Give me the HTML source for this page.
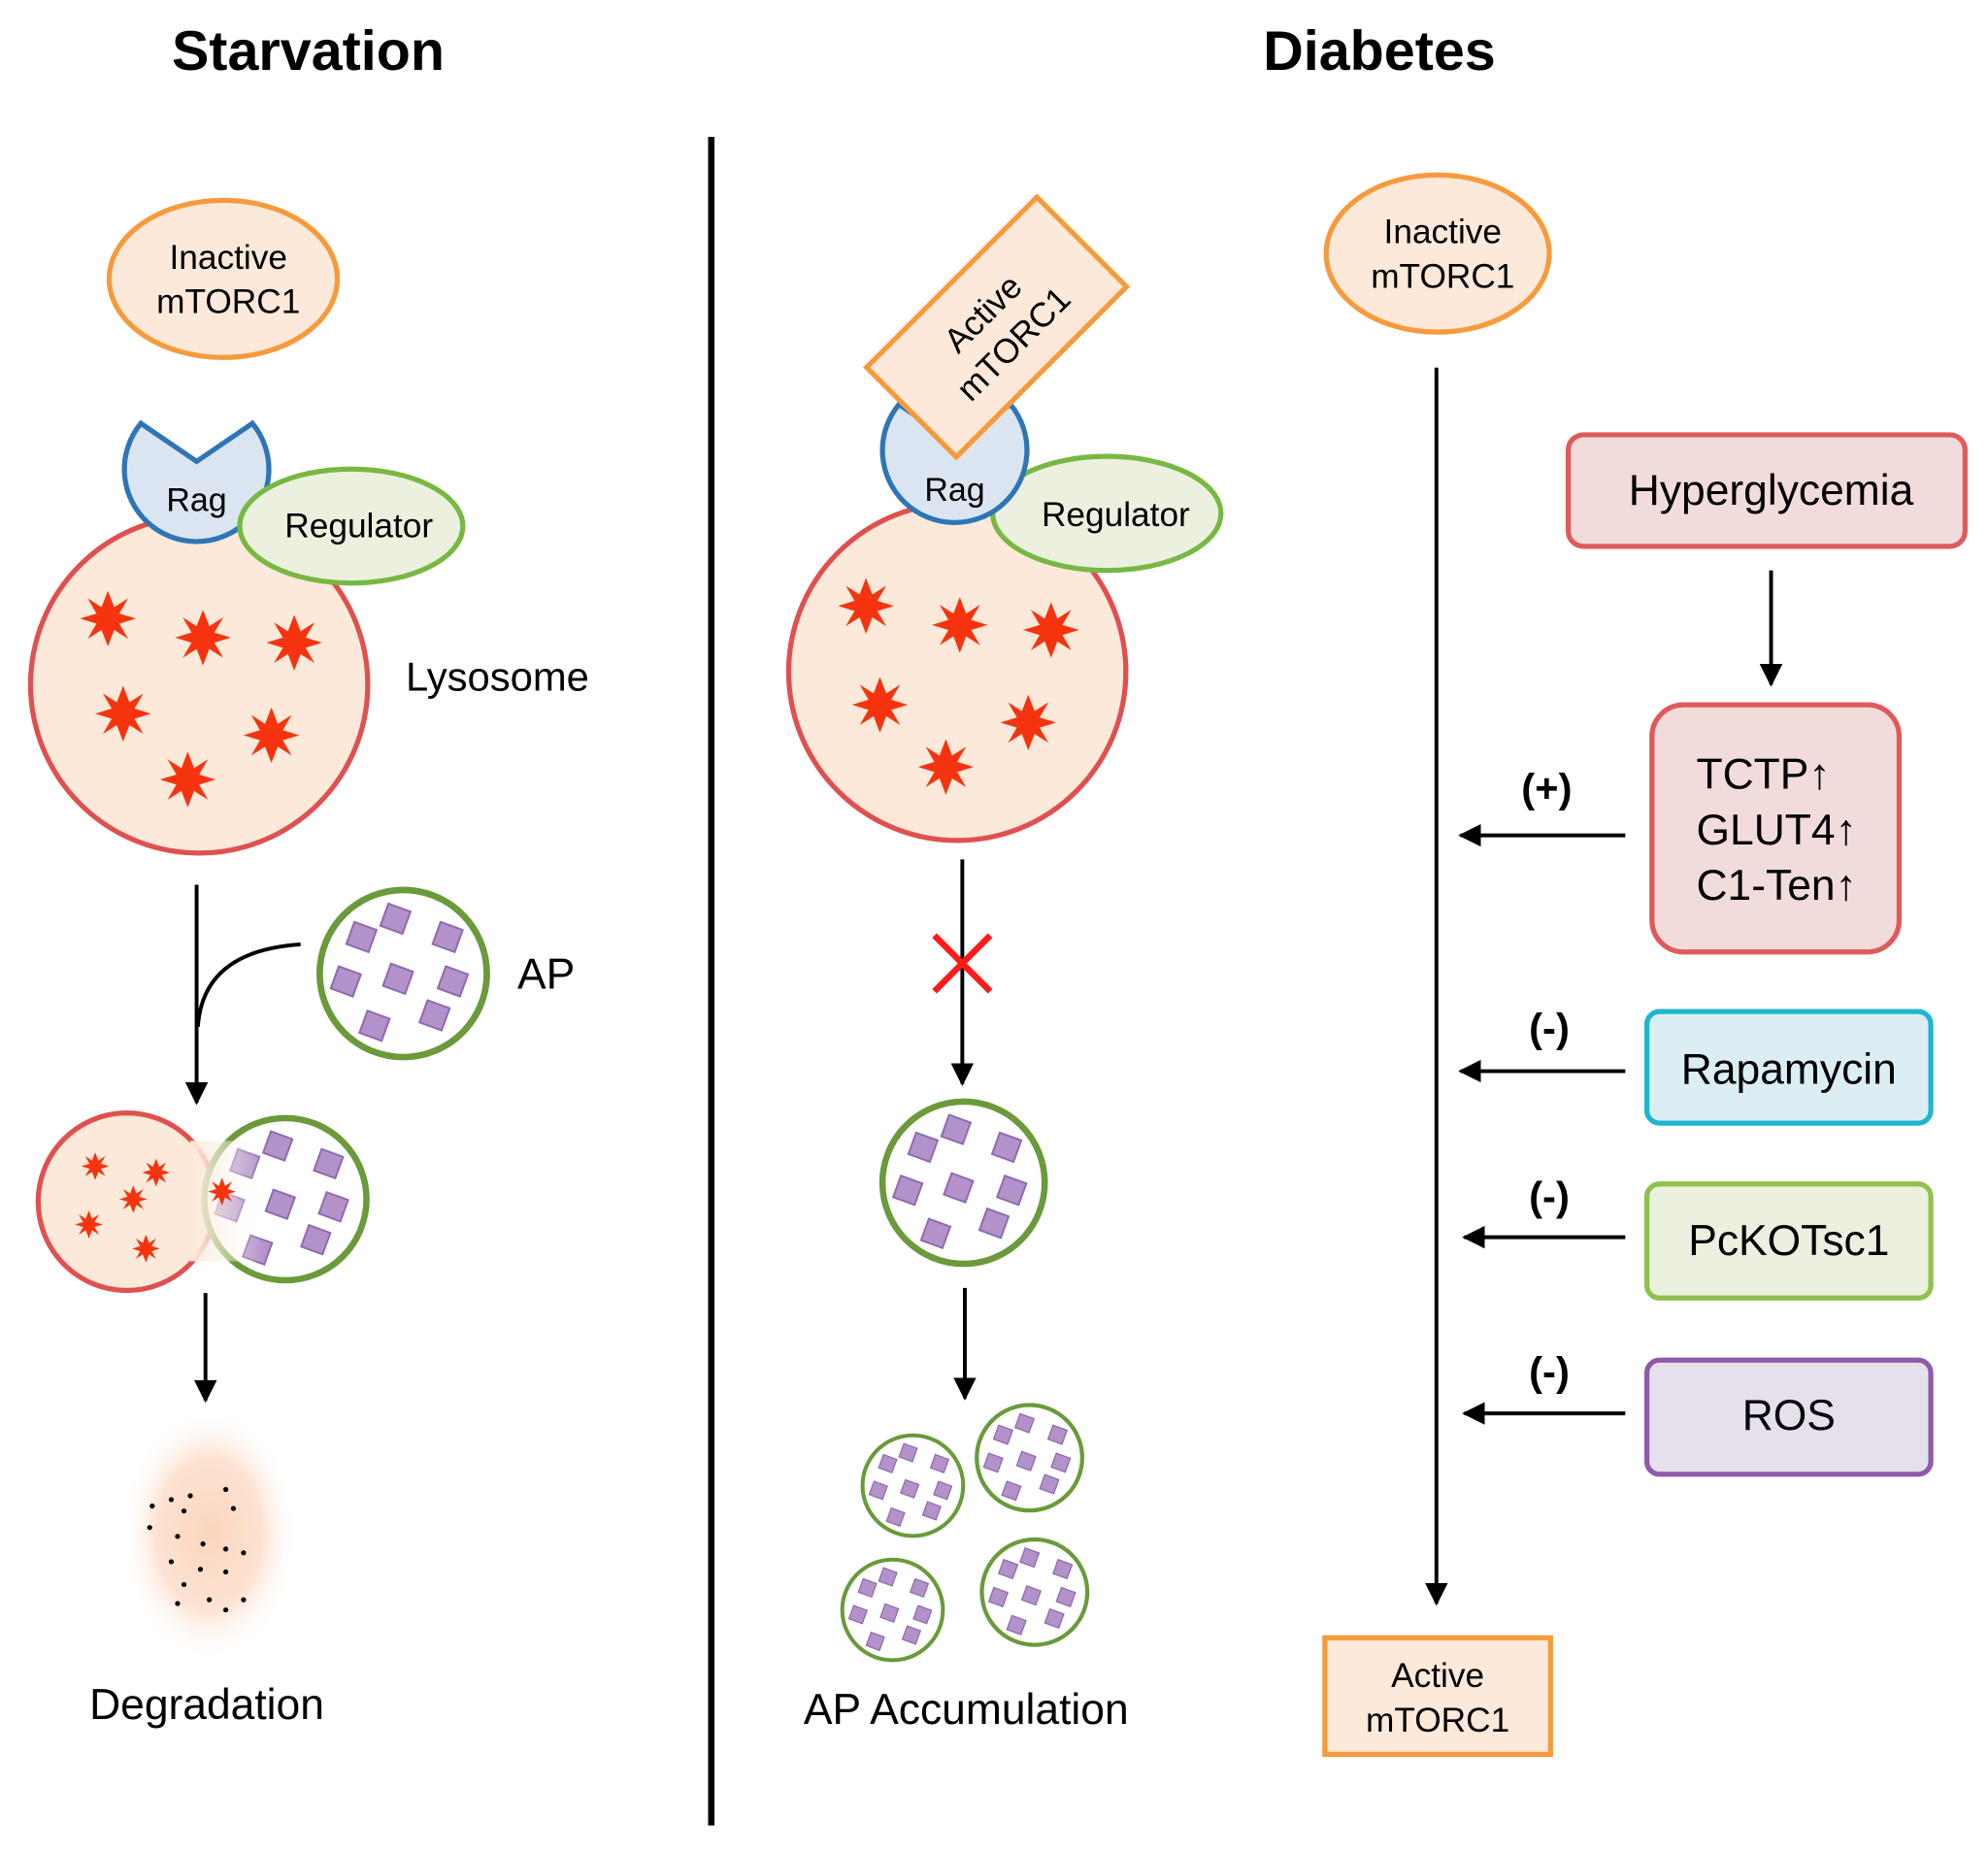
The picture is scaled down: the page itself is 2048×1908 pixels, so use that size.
<!DOCTYPE html>
<html><head><meta charset="utf-8"><style>html,body{margin:0;padding:0;background:#fff}svg{display:block}</style></head>
<body>
<svg width="2048" height="1908" viewBox="0 0 1568 1461" xmlns="http://www.w3.org/2000/svg" font-family="Liberation Sans, sans-serif">
<defs>
<marker id="ah" markerWidth="8" markerHeight="8" refX="6" refY="4" orient="auto" markerUnits="userSpaceOnUse" viewBox="0 0 8 8"><path d="M0,0 L8,4 L0,8 z" fill="#000"/></marker>
<marker id="a" viewBox="0 0 10 10" refX="9" refY="5" markerWidth="18" markerHeight="18" markerUnits="userSpaceOnUse" orient="auto"><path d="M0,0 L10,5 L0,10 z" fill="#000"/></marker>
<radialGradient id="deg"><stop offset="0" stop-color="#fbd5bd"/><stop offset="0.6" stop-color="#fde3d3"/><stop offset="1" stop-color="#fff" stop-opacity="0"/></radialGradient>
<linearGradient id="fuse" x1="0" x2="1"><stop offset="0" stop-color="#fde9d9"/><stop offset="1" stop-color="#fff" stop-opacity="0"/></linearGradient>
<g id="star"><polygon points="0,-22 5,-9 16,-16 9,-4 22,0 9,4 16,16 5,9 0,22 -5,9 -16,16 -9,4 -22,0 -9,-4 -16,-16 -5,-9" fill="#f5340f"/></g>
<g id="dia"><rect x="-9" y="-9" width="18" height="18" fill="#b392c9" stroke="#8e6aae" stroke-width="1.5" transform="rotate(20)"/></g>
<g id="ap">
<circle r="64" fill="#fff" stroke="#6a9a3a" stroke-width="5"/>
<use href="#dia" x="-32" y="-28"/><use href="#dia" x="-6" y="-42"/><use href="#dia" x="34" y="-28"/>
<use href="#dia" x="-44" y="6"/><use href="#dia" x="-4" y="4"/><use href="#dia" x="38" y="6"/>
<use href="#dia" x="-22" y="40"/><use href="#dia" x="24" y="32"/>
</g>
<g id="rag"><path d="M-44,-44 L0,-14 L44,-44 A57,57 0 1 1 -44,-44 Z" fill="#dbe5f1" stroke="#2e75b6" stroke-width="4"/></g>
</defs>

<text x="243" y="55" font-size="44" font-weight="bold" text-anchor="middle">Starvation</text>
<text x="1088" y="55" font-size="44" font-weight="bold" text-anchor="middle">Diabetes</text>
<line x1="561" y1="108" x2="561" y2="1440" stroke="#000" stroke-width="5"/>

<!-- Left -->
<ellipse cx="176" cy="220" rx="90" ry="62" fill="#fde9d9" stroke="#f79a3c" stroke-width="4"/>
<text x="180" y="212" font-size="27" text-anchor="middle">Inactive</text>
<text x="180" y="247" font-size="27" text-anchor="middle">mTORC1</text>
<circle cx="157" cy="540" r="133" fill="#fde9d9" stroke="#e05050" stroke-width="4"/>
<use href="#rag" x="155" y="378"/>
<text x="155" y="403" font-size="26" text-anchor="middle">Rag</text>
<ellipse cx="277" cy="415" rx="88" ry="45" fill="#ebf1de" stroke="#77b843" stroke-width="4"/>
<text x="283" y="424" font-size="27" text-anchor="middle">Regulator</text>
<use href="#star" x="85" y="488"/><use href="#star" x="160" y="503"/><use href="#star" x="232" y="507"/>
<use href="#star" x="97" y="563"/><use href="#star" x="214" y="580"/><use href="#star" x="148" y="615"/>
<text x="320" y="545" font-size="32">Lysosome</text>
<line x1="155" y1="698" x2="155" y2="870" stroke="#000" stroke-width="3" marker-end="url(#a)"/>
<path d="M237,745 Q160,750 156,810" fill="none" stroke="#000" stroke-width="3"/>
<use href="#ap" x="318" y="768" transform="translate(318 768) scale(1.03) translate(-318 -768)"/>
<text x="408" y="780" font-size="34">AP</text>
<circle cx="100" cy="948" r="70" fill="#fde9d9" stroke="#e05050" stroke-width="4"/>
<g transform="translate(225 946) scale(1.0)"><use href="#ap"/></g>
<rect x="150" y="900" width="60" height="95" fill="url(#fuse)"/>
<g transform="translate(0 0) scale(1)">
<use href="#star" x="75" y="920" transform="translate(75 920) scale(0.5) translate(-75 -920)"/>
<use href="#star" x="123" y="925" transform="translate(123 925) scale(0.5) translate(-123 -925)"/>
<use href="#star" x="105" y="946" transform="translate(105 946) scale(0.5) translate(-105 -946)"/>
<use href="#star" x="70" y="966" transform="translate(70 966) scale(0.5) translate(-70 -966)"/>
<use href="#star" x="115" y="985" transform="translate(115 985) scale(0.5) translate(-115 -985)"/>
<use href="#star" x="175" y="940" transform="translate(175 940) scale(0.5) translate(-175 -940)"/>
</g>
<line x1="162" y1="1020" x2="162" y2="1105" stroke="#000" stroke-width="3" marker-end="url(#a)"/>
<ellipse cx="165" cy="1210" rx="70" ry="100" fill="url(#deg)"/>
<g fill="#000">
<circle cx="120" cy="1188" r="2"/><circle cx="135" cy="1183" r="2"/><circle cx="150" cy="1180" r="2"/><circle cx="178" cy="1175" r="2"/><circle cx="184" cy="1190" r="2"/><circle cx="145" cy="1192" r="2"/>
<circle cx="118" cy="1205" r="2"/><circle cx="140" cy="1212" r="2"/><circle cx="160" cy="1218" r="2"/><circle cx="178" cy="1222" r="2"/><circle cx="192" cy="1225" r="2"/>
<circle cx="135" cy="1232" r="2"/><circle cx="158" cy="1238" r="2"/><circle cx="178" cy="1240" r="2"/><circle cx="145" cy="1250" r="2"/><circle cx="165" cy="1262" r="2"/><circle cx="192" cy="1262" r="2"/><circle cx="140" cy="1265" r="2"/><circle cx="178" cy="1270" r="2"/>
</g>
<text x="163" y="1356" font-size="34" text-anchor="middle">Degradation</text>

<!-- Middle -->
<circle cx="755" cy="530" r="133" fill="#fde9d9" stroke="#e05050" stroke-width="4"/>
<ellipse cx="873" cy="405" rx="90" ry="45" fill="#ebf1de" stroke="#77b843" stroke-width="4"/>
<text x="880" y="415" font-size="27" text-anchor="middle">Regulator</text>
<use href="#rag" x="753" y="363"/>
<text x="753" y="395" font-size="26" text-anchor="middle">Rag</text>
<g transform="translate(786 258) rotate(-45)">
<rect x="-95" y="-50" width="190" height="100" fill="#fde9d9" stroke="#f79a3c" stroke-width="4"/>
<text x="0" y="-6" font-size="27" text-anchor="middle">Active</text>
<text x="0" y="28" font-size="27" text-anchor="middle">mTORC1</text>
</g>
<use href="#star" x="683" y="478"/><use href="#star" x="757" y="493"/><use href="#star" x="829" y="497"/>
<use href="#star" x="694" y="556"/><use href="#star" x="811" y="570"/><use href="#star" x="746" y="605"/>
<line x1="759" y1="678" x2="759" y2="855" stroke="#000" stroke-width="3" marker-end="url(#a)"/>
<path d="M737,738 L781,782 M781,738 L737,782" stroke="#ff1a1a" stroke-width="5"/>
<use href="#ap" x="760" y="933"/>
<line x1="761" y1="1016" x2="761" y2="1103" stroke="#000" stroke-width="3" marker-end="url(#a)"/>
<g transform="translate(720 1172) scale(0.62)"><use href="#ap"/></g>
<g transform="translate(812 1150) scale(0.65)"><use href="#ap"/></g>
<g transform="translate(704 1270) scale(0.62)"><use href="#ap"/></g>
<g transform="translate(816 1256) scale(0.65)"><use href="#ap"/></g>
<text x="762" y="1360" font-size="34" text-anchor="middle">AP Accumulation</text>

<!-- Right -->
<ellipse cx="1134" cy="200" rx="88" ry="62" fill="#fde9d9" stroke="#f79a3c" stroke-width="4"/>
<text x="1138" y="192" font-size="27" text-anchor="middle">Inactive</text>
<text x="1138" y="227" font-size="27" text-anchor="middle">mTORC1</text>
<line x1="1133" y1="290" x2="1133" y2="1265" stroke="#000" stroke-width="3" marker-end="url(#a)"/>
<rect x="1237" y="343" width="313" height="88" rx="12" fill="#f2dcdb" stroke="#e05a5a" stroke-width="4"/>
<text x="1397" y="398" font-size="34" text-anchor="middle">Hyperglycemia</text>
<line x1="1397" y1="450" x2="1397" y2="540" stroke="#000" stroke-width="3" marker-end="url(#a)"/>
<rect x="1303" y="556" width="195" height="195" rx="25" fill="#f2dcdb" stroke="#e05a5a" stroke-width="4"/>
<text x="1338" y="622" font-size="34">TCTP↑</text>
<text x="1338" y="666" font-size="34">GLUT4↑</text>
<text x="1338" y="710" font-size="34">C1-Ten↑</text>
<text x="1220" y="633" font-size="32" font-weight="bold" text-anchor="middle">(+)</text>
<line x1="1282" y1="659" x2="1152" y2="659" stroke="#000" stroke-width="3" marker-end="url(#a)"/>
<rect x="1299" y="798" width="224" height="88" rx="10" fill="#dbeef4" stroke="#1fb5d0" stroke-width="4"/>
<text x="1411" y="855" font-size="34" text-anchor="middle">Rapamycin</text>
<text x="1222" y="822" font-size="32" font-weight="bold" text-anchor="middle">(-)</text>
<line x1="1282" y1="845" x2="1152" y2="845" stroke="#000" stroke-width="3" marker-end="url(#a)"/>
<rect x="1299" y="934" width="224" height="90" rx="10" fill="#ebf1de" stroke="#8fc14e" stroke-width="4"/>
<text x="1411" y="990" font-size="34" text-anchor="middle">PcKOTsc1</text>
<text x="1222" y="955" font-size="32" font-weight="bold" text-anchor="middle">(-)</text>
<line x1="1282" y1="976" x2="1155" y2="976" stroke="#000" stroke-width="3" marker-end="url(#a)"/>
<rect x="1299" y="1073" width="224" height="90" rx="10" fill="#e5e0ec" stroke="#8e5bab" stroke-width="4"/>
<text x="1411" y="1128" font-size="34" text-anchor="middle">ROS</text>
<text x="1222" y="1093" font-size="32" font-weight="bold" text-anchor="middle">(-)</text>
<line x1="1282" y1="1115" x2="1155" y2="1115" stroke="#000" stroke-width="3" marker-end="url(#a)"/>
<rect x="1045" y="1292" width="178" height="92" fill="#fde9d9" stroke="#f79a3c" stroke-width="4"/>
<text x="1134" y="1331" font-size="27" text-anchor="middle">Active</text>
<text x="1134" y="1366" font-size="27" text-anchor="middle">mTORC1</text>
</svg>
</body></html>
